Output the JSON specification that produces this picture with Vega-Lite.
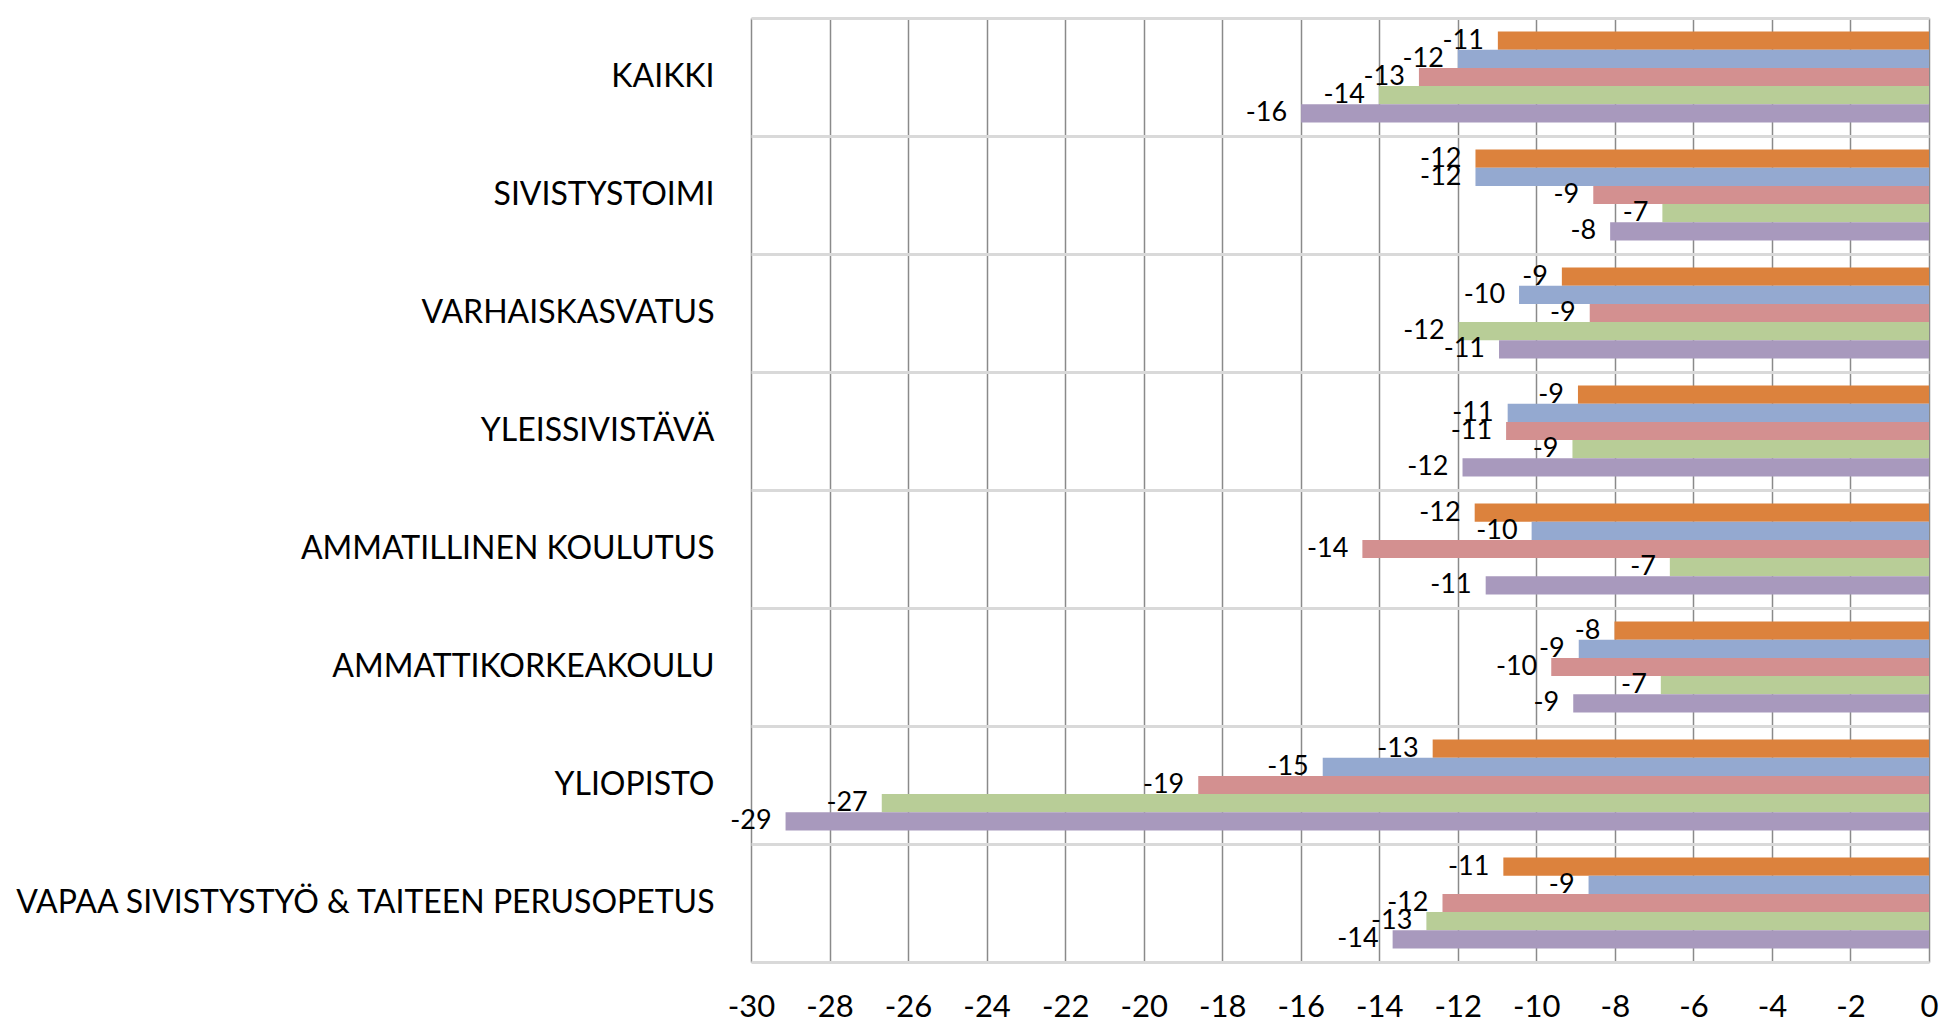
{
  "$schema": "https://vega.github.io/schema/vega-lite/v6.json",
  "width": 1178,
  "height": 944,
  "autosize": {"type": "none"},
  "padding": {"left": 751, "top": 18, "right": 30, "bottom": 62},
  "background": "white",
  "config": {
    "locale": {"number": {"decimal": ".", "thousands": ",", "grouping": [3], "currency": ["", ""], "minus": "-"}},
    "view": {"stroke": null},
    "font": "Lato"
  },
  "data": {
    "values": [
      {"ala": "KAIKKI", "sarja": "Sarja 1", "arvo": -10.98},
      {"ala": "KAIKKI", "sarja": "Sarja 2", "arvo": -12.0},
      {"ala": "KAIKKI", "sarja": "Sarja 3", "arvo": -12.99},
      {"ala": "KAIKKI", "sarja": "Sarja 4", "arvo": -14.01},
      {"ala": "KAIKKI", "sarja": "Sarja 5", "arvo": -15.99},
      {"ala": "SIVISTYSTOIMI", "sarja": "Sarja 1", "arvo": -11.55},
      {"ala": "SIVISTYSTOIMI", "sarja": "Sarja 2", "arvo": -11.55},
      {"ala": "SIVISTYSTOIMI", "sarja": "Sarja 3", "arvo": -8.55},
      {"ala": "SIVISTYSTOIMI", "sarja": "Sarja 4", "arvo": -6.79},
      {"ala": "SIVISTYSTOIMI", "sarja": "Sarja 5", "arvo": -8.12},
      {"ala": "VARHAISKASVATUS", "sarja": "Sarja 1", "arvo": -9.35},
      {"ala": "VARHAISKASVATUS", "sarja": "Sarja 2", "arvo": -10.44},
      {"ala": "VARHAISKASVATUS", "sarja": "Sarja 3", "arvo": -8.64},
      {"ala": "VARHAISKASVATUS", "sarja": "Sarja 4", "arvo": -11.98},
      {"ala": "VARHAISKASVATUS", "sarja": "Sarja 5", "arvo": -10.95},
      {"ala": "YLEISSIVISTÄVÄ", "sarja": "Sarja 1", "arvo": -8.94},
      {"ala": "YLEISSIVISTÄVÄ", "sarja": "Sarja 2", "arvo": -10.73},
      {"ala": "YLEISSIVISTÄVÄ", "sarja": "Sarja 3", "arvo": -10.77},
      {"ala": "YLEISSIVISTÄVÄ", "sarja": "Sarja 4", "arvo": -9.08},
      {"ala": "YLEISSIVISTÄVÄ", "sarja": "Sarja 5", "arvo": -11.88},
      {"ala": "AMMATILLINEN KOULUTUS", "sarja": "Sarja 1", "arvo": -11.57},
      {"ala": "AMMATILLINEN KOULUTUS", "sarja": "Sarja 2", "arvo": -10.12},
      {"ala": "AMMATILLINEN KOULUTUS", "sarja": "Sarja 3", "arvo": -14.43},
      {"ala": "AMMATILLINEN KOULUTUS", "sarja": "Sarja 4", "arvo": -6.6},
      {"ala": "AMMATILLINEN KOULUTUS", "sarja": "Sarja 5", "arvo": -11.29},
      {"ala": "AMMATTIKORKEAKOULU", "sarja": "Sarja 1", "arvo": -8.01},
      {"ala": "AMMATTIKORKEAKOULU", "sarja": "Sarja 2", "arvo": -8.92},
      {"ala": "AMMATTIKORKEAKOULU", "sarja": "Sarja 3", "arvo": -9.62},
      {"ala": "AMMATTIKORKEAKOULU", "sarja": "Sarja 4", "arvo": -6.83},
      {"ala": "AMMATTIKORKEAKOULU", "sarja": "Sarja 5", "arvo": -9.06},
      {"ala": "YLIOPISTO", "sarja": "Sarja 1", "arvo": -12.64},
      {"ala": "YLIOPISTO", "sarja": "Sarja 2", "arvo": -15.44},
      {"ala": "YLIOPISTO", "sarja": "Sarja 3", "arvo": -18.61},
      {"ala": "YLIOPISTO", "sarja": "Sarja 4", "arvo": -26.67},
      {"ala": "YLIOPISTO", "sarja": "Sarja 5", "arvo": -29.12},
      {"ala": "VAPAA SIVISTYSTYÖ & TAITEEN PERUSOPETUS", "sarja": "Sarja 1", "arvo": -10.84},
      {"ala": "VAPAA SIVISTYSTYÖ & TAITEEN PERUSOPETUS", "sarja": "Sarja 2", "arvo": -8.67},
      {"ala": "VAPAA SIVISTYSTYÖ & TAITEEN PERUSOPETUS", "sarja": "Sarja 3", "arvo": -12.39},
      {"ala": "VAPAA SIVISTYSTYÖ & TAITEEN PERUSOPETUS", "sarja": "Sarja 4", "arvo": -12.8},
      {"ala": "VAPAA SIVISTYSTYÖ & TAITEEN PERUSOPETUS", "sarja": "Sarja 5", "arvo": -13.66}
    ]
  },
  "encoding": {
    "y": {
      "field": "ala",
      "type": "nominal",
      "sort": null,
      "scale": {"paddingInner": 0, "paddingOuter": 0},
      "axis": {
        "title": null,
        "ticks": false,
        "domain": false,
        "labelPadding": 37,
        "labelFontSize": 32,
        "labelColor": "#000000",
        "labelFont": "Lato",
        "labelLimit": 800,
        "grid": true,
        "bandPosition": 0,
        "gridColor": "#D9D9D9",
        "gridWidth": 3
      }
    },
    "yOffset": {
      "field": "sarja",
      "type": "nominal",
      "sort": null,
      "scale": {"paddingInner": 0, "paddingOuter": 0.74}
    },
    "x": {
      "field": "arvo",
      "type": "quantitative",
      "scale": {"domain": [-30, 0], "nice": false},
      "axis": {
        "title": null,
        "values": [-30, -28, -26, -24, -22, -20, -18, -16, -14, -12, -10, -8, -6, -4, -2, 0],
        "format": "d",
        "ticks": false,
        "labelFlush": false,
        "labelOverlap": false,
        "labelPadding": 30,
        "labelFontSize": 31,
        "labelColor": "#000000",
        "labelFont": "Lato",
        "domainColor": "#D9D9D9",
        "domainWidth": 3,
        "grid": true,
        "gridColor": "#8A8A8A",
        "gridWidth": 1.5
      }
    }
  },
  "layer": [
    {
      "mark": {"type": "bar"},
      "encoding": {
        "color": {
          "field": "sarja",
          "type": "nominal",
          "legend": null,
          "scale": {
            "domain": ["Sarja 1", "Sarja 2", "Sarja 3", "Sarja 4", "Sarja 5"],
            "range": ["#DC823D", "#94A9D0", "#D39090", "#B8CD97", "#A899BD"]
          }
        }
      }
    },
    {
      "mark": {"type": "text", "align": "right", "baseline": "middle", "dx": -14, "fontSize": 27, "font": "Lato", "color": "#000000"},
      "encoding": {
        "text": {"field": "arvo", "type": "quantitative", "format": ".0f"}
      }
    }
  ]
}
